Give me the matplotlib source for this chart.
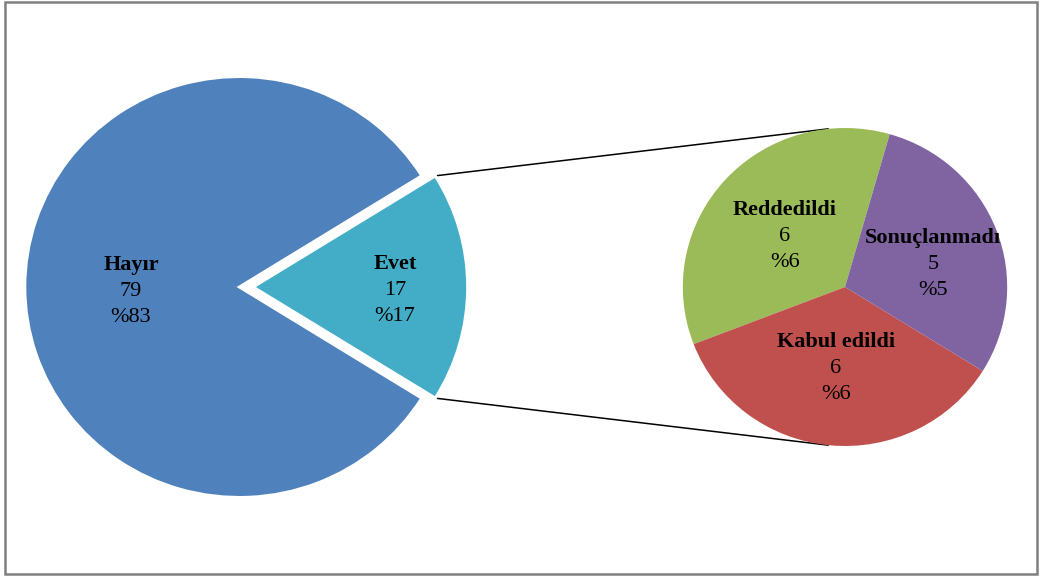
import numpy as np
import matplotlib
matplotlib.use("Agg")
import matplotlib.pyplot as plt
from matplotlib.patches import Rectangle

plt.rcParams["font.family"] = ["Liberation Serif", "DejaVu Serif"]

# ana pasta: başvuru yapıldı mı?
main_labels = ["Hayır", "Evet"]
main_values = [79, 17]
main_pct = ["%83", "%17"]
main_colors = ["#4F81BD", "#43ADC7"]

# ikinci pasta: "Evet" diliminin dağılımı
sub_labels = ["Reddedildi", "Kabul edildi", "Sonuçlanmadı"]
sub_values = [6, 6, 5]
sub_pct = ["%6", "%6", "%5"]
sub_colors = ["#9BBB59", "#C0504D", "#8064A2"]

W, H = 1040, 576
SX = 1.02  # grafik yatayda hafif geniş


def P(x, y):
    """piksel konumunu eksen koordinatına çevirir"""
    return x / SX, H - y


fig = plt.figure(figsize=(W / 100, H / 100), dpi=100)
ax = fig.add_axes([0, 0, 1, 1])

# ana pasta, "Evet" dilimi sıfır derece etrafında ve dışa çekik
main_center = P(239.5, 287)
main_r = 210.5
half = 180 * main_values[1] / sum(main_values)
shift = 13.5 / SX  # pie() explode değeri veri biriminde kayma
ax.pie(main_values, colors=main_colors, startangle=half,
       center=main_center, radius=main_r, explode=[0, shift],
       wedgeprops=dict(edgecolor="white", linewidth=2.2),
       frame=True)

# ikinci pasta
sub_center = P(845, 287)
sub_r = 159
ax.pie(sub_values, colors=sub_colors, startangle=74,
       center=sub_center, radius=sub_r, frame=True,
       wedgeprops=dict(edgecolor="none"))

ax.set_aspect("auto")
ax.set_xlim(0, W / SX)
ax.set_ylim(0, H)
ax.axis("off")

# bağlantı çizgileri: "Evet" diliminin köşelerinden ikinci pastaya
ev_cx = main_center[0] + shift
ev_cy = main_center[1]
for sign, ang in [(1, 96), (-1, 264)]:
    t = np.radians(sign * half)
    x0 = ev_cx + main_r * np.cos(t)
    y0 = ev_cy + main_r * np.sin(t)
    a = np.radians(ang)
    x1 = sub_center[0] + sub_r * np.cos(a)
    y1 = sub_center[1] + sub_r * np.sin(a)
    ax.plot([x0, x1], [y0, y1], color="black", lw=1.1, zorder=0.5)


def label(x, y, name, value, pct, gap=26):
    ax.text(*P(x, y), name, ha="center", va="baseline", fontsize=16,
            fontweight="bold", color="black")
    ax.text(*P(x, y + gap), str(value), ha="center", va="baseline",
            fontsize=16, color="black")
    ax.text(*P(x, y + 2 * gap), pct, ha="center", va="baseline",
            fontsize=16, color="black")


label(131, 270, main_labels[0], main_values[0], main_pct[0])
label(395, 269, main_labels[1], main_values[1], main_pct[1])
label(785, 215, sub_labels[0], sub_values[0], sub_pct[0])
label(836, 347, sub_labels[1], sub_values[1], sub_pct[1])
label(933, 243, sub_labels[2], sub_values[2], sub_pct[2])

# grafik alanı çerçevesi
fig.patches.append(Rectangle((5 / W, 2 / H), 1032 / W, 572 / H,
                             transform=fig.transFigure, fill=False,
                             edgecolor="#808080", linewidth=1.8))

fig.savefig("out.png", dpi=100)
